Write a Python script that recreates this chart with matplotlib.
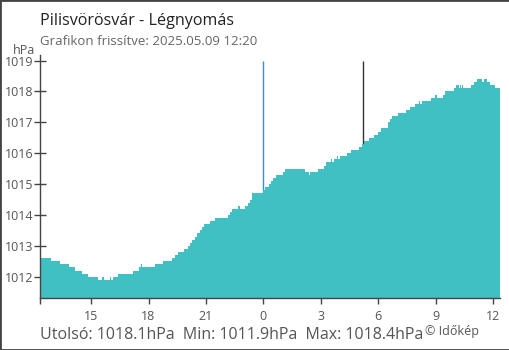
import numpy as np
import matplotlib.pyplot as plt
from matplotlib.patches import Rectangle

plt.rcParams["font.family"] = ["Open Sans", "DejaVu Sans"]

# %% data: step changes of pressure (time of change, hPa), 2025.05.08 12:20 -> 05.09 12:20
times = [
    "12:20", "12:55", "13:24", "13:52", "14:11", "14:33", "14:51", "15:23", "15:35", "15:41",
    "16:00", "16:03", "16:10", "16:25", "17:12", "17:31", "17:37", "17:40", "18:21", "18:46",
    "19:14", "19:24", "19:33", "19:52", "20:04", "20:11", "20:17", "20:26", "20:32", "20:42",
    "20:48", "20:54", "21:13", "21:29", "22:10", "22:16", "22:22", "22:41", "22:47", "23:03",
    "23:12", "23:18", "23:25", "00:00", "00:05", "00:18", "00:24", "00:30", "00:40", "01:02",
    "01:08", "02:11", "02:23", "02:26", "02:51", "03:10", "03:16", "03:32", "03:35", "03:41",
    "03:51", "03:54", "04:00", "04:22", "04:34", "05:00", "05:09", "05:15", "05:31", "05:46",
    "05:59", "06:08", "06:30", "06:37", "06:43", "07:02", "07:27", "07:39", "07:55", "08:07",
    "08:10", "08:17", "08:45", "08:57", "09:04", "09:22", "09:29", "09:57", "10:03", "10:12",
    "10:16", "10:19", "10:22", "10:25", "10:50", "10:59", "11:09", "11:25", "11:31", "11:40",
    "11:50", "12:05", "12:20",
]
pressure = [
    1012.6, 1012.5, 1012.4, 1012.3, 1012.2, 1012.1, 1012.0, 1011.9, 1012.0, 1011.9,
    1012.0, 1011.9, 1012.0, 1012.1, 1012.2, 1012.3, 1012.4, 1012.3, 1012.4, 1012.5,
    1012.6, 1012.7, 1012.8, 1012.9, 1013.0, 1013.1, 1013.2, 1013.3, 1013.4, 1013.5,
    1013.6, 1013.7, 1013.8, 1013.9, 1014.0, 1014.1, 1014.2, 1014.3, 1014.2, 1014.3,
    1014.4, 1014.5, 1014.7, 1014.8, 1014.9, 1015.0, 1015.1, 1015.2, 1015.3, 1015.4,
    1015.5, 1015.4, 1015.3, 1015.4, 1015.5, 1015.6, 1015.7, 1015.8, 1015.7, 1015.8,
    1015.9, 1015.8, 1015.9, 1016.0, 1016.1, 1016.2, 1016.3, 1016.4, 1016.5, 1016.6,
    1016.7, 1016.8, 1017.0, 1017.1, 1017.2, 1017.3, 1017.4, 1017.5, 1017.6, 1017.7,
    1017.6, 1017.7, 1017.8, 1017.9, 1017.8, 1017.9, 1018.0, 1018.1, 1018.2, 1018.1,
    1018.2, 1018.1, 1018.2, 1018.1, 1018.2, 1018.3, 1018.4, 1018.3, 1018.4, 1018.3,
    1018.2, 1018.1, 1018.1,
]
sunrise = "05:13"
xticks = [15, 18, 21, 0, 3, 6, 9, 12]
yticks = [1012, 1013, 1014, 1015, 1016, 1017, 1018, 1019]

title = "Pilisvörösvár - Légnyomás"
subtitle = "Grafikon frissítve: 2025.05.09 12:20"
summary = "Utolsó: 1018.1hPa  Min: 1011.9hPa  Max: 1018.4hPa"


def to_hours(t):
    h, m = t.split(":")
    return int(h) + int(m) / 60


hrs = np.array([to_hours(t) for t in times])
# hours before midnight belong to the previous day
wrap = np.cumsum(np.diff(hrs, prepend=hrs[0]) < 0)
hrs = hrs - 24 + 24 * wrap
vals = np.array(pressure)

# %% plot
fig = plt.figure(figsize=(5.1, 3.5), dpi=100)
ax = fig.add_axes([40 / 510, 1 - 298 / 350, 460 / 510, 243 / 350])
ymin, ymax = 1011.31, 1019.18
ax.fill_between(hrs, vals, ymin, step="post", color="#40c0c2", lw=0, zorder=2)
ax.vlines(0, ymin, 1019, color="#3a8fd0", lw=1, zorder=1)
ax.vlines(to_hours(sunrise), ymin, 1019, color="#333333", lw=1, zorder=1)

ax.set_xlim(hrs[0], hrs[-1] + 0.02)
ax.set_ylim(ymin, ymax)
ax.set_xticks([hrs[0]] + [t if t <= 12 else t - 24 for t in xticks])
ax.set_xticklabels([""] + [str(t) for t in xticks])
ax.set_yticks(yticks)
ax.set_yticklabels([str(t) for t in yticks])

for s in ["top", "right"]:
    ax.spines[s].set_visible(False)
for s in ["left", "bottom"]:
    ax.spines[s].set_color("#444444")
    ax.spines[s].set_linewidth(1)
    ax.spines[s].set_zorder(3)
ax.tick_params(axis="y", direction="inout", length=8, width=1, color="#444444",
               labelsize=9, labelcolor="#555555", pad=1)
ax.tick_params(axis="x", direction="out", length=4, width=1, color="#444444",
               labelsize=9, labelcolor="#555555", pad=5)
ax.get_xticklines()[2 * xticks.index(0) + 2].set_color("#3a8fd0")

fig.text(40 / 510, 1 - 25 / 350, title, fontsize=11.6, color="#222222", va="baseline")
fig.text(40 / 510, 1 - 45 / 350, subtitle, fontsize=9.5, color="#666666", va="baseline")
fig.text(35 / 510, 1 - 54 / 350, "hPa", fontsize=9, color="#555555", ha="right", va="baseline")
fig.text(40 / 510, 1 - 339 / 350, summary, fontsize=11.5, color="#555555", va="baseline")
fig.text(425 / 510, 1 - 335 / 350, "© Időkép", fontsize=9, color="#555555", va="baseline")

fig.patches.append(Rectangle((0, 0), 1, 1, transform=fig.transFigure, fill=False,
                             edgecolor="#444444", lw=2))

plt.savefig("out.png", dpi=100)
